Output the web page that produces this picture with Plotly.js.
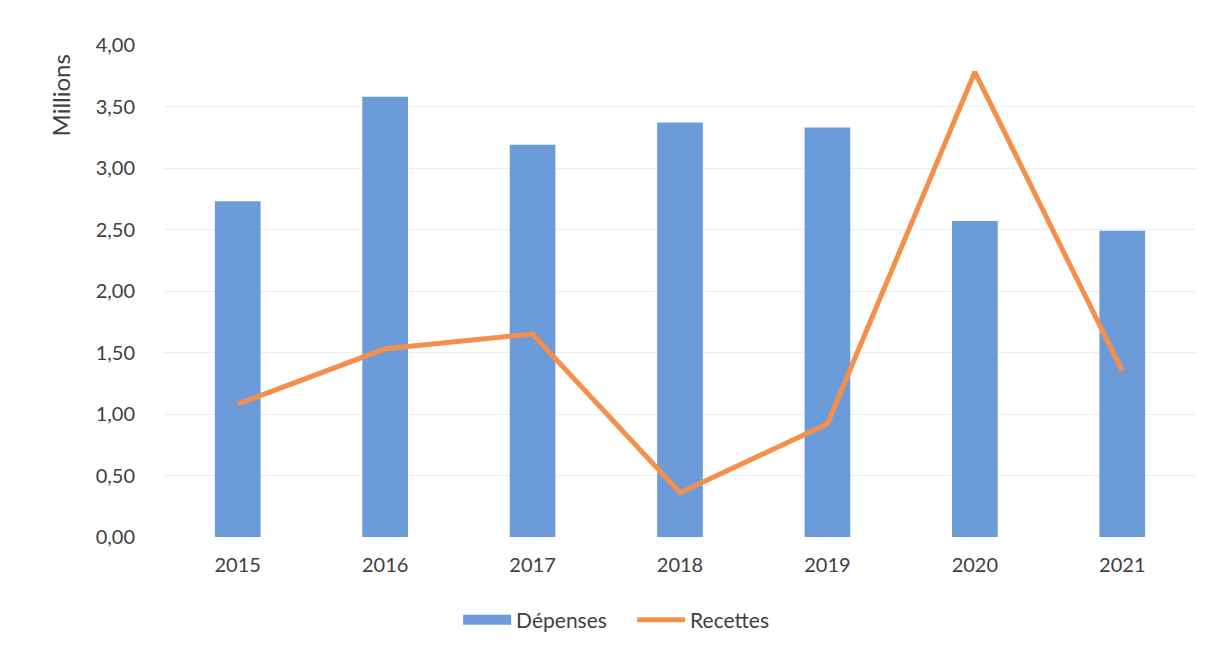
<!DOCTYPE html>
<html>
<head>
<meta charset="utf-8">
<script src="https://cdn.plot.ly/plotly-3.0.1.min.js"></script>
<style>html,body{margin:0;padding:0;background:#fff;}#chart{width:1220px;height:652px;}</style>
</head>
<body>
<div id="chart"></div>
<script>
const years = ['2015', '2016', '2017', '2018', '2019', '2020', '2021'];
const depenses = [2.73, 3.58, 3.19, 3.37, 3.33, 2.57, 2.49];
const recettes = [1.08, 1.53, 1.65, 0.36, 0.92, 3.78, 1.35];
const yTicks = [0, 0.5, 1, 1.5, 2, 2.5, 3, 3.5, 4];

const font = {family: 'Lato, Open Sans, Liberation Sans, sans-serif', size: 20, color: '#404040'};

const data = [
  {type: 'bar', name: 'Dépenses', x: years, y: depenses, showlegend: false,
   legendgroup: 'dep', marker: {color: '#6c9bd9'}, width: 0.31},
  {type: 'scatter', mode: 'lines', name: 'Dépenses', x: [years[0]], y: [null],
   legendgroup: 'dep', line: {color: '#6c9bd9', width: 11}},
  {type: 'scatter', mode: 'lines', name: 'Recettes', x: years, y: recettes,
   line: {color: '#f4904c', width: 5}}
];

const layout = {
  width: 1220, height: 652,
  margin: {l: 164, r: 24, t: 45, b: 114},
  paper_bgcolor: '#ffffff', plot_bgcolor: '#ffffff',
  separators: ', ',
  font: font,
  showlegend: true,
  legend: {orientation: 'h', x: 0.285, xanchor: 'left',
           y: -0.125, yanchor: 'top',
           font: {family: font.family, size: 21, color: '#404040'},
           traceorder: 'normal', itemwidth: 48, entrywidth: 111},
  xaxis: {type: 'category', showgrid: false, zeroline: false, showline: false,
          ticks: '', tickfont: font, ticklabelstandoff: 14},
  yaxis: {range: [0, 4], tickvals: yTicks, tickformat: '.2f', showgrid: true,
          gridcolor: '#eeeeee', gridwidth: 1, zeroline: false, showline: false,
          ticks: '', tickfont: font, ticklabelstandoff: 28},
  annotations: [{text: 'Millions', xref: 'paper', yref: 'paper', x: -0.1, y: 0.897,
                 xanchor: 'center', yanchor: 'middle', textangle: -90, showarrow: false,
                 font: {family: font.family, size: 24, color: '#404040'}}]
};

Plotly.newPlot('chart', data, layout, {displayModeBar: false, staticPlot: true});
</script>
</body>
</html>
